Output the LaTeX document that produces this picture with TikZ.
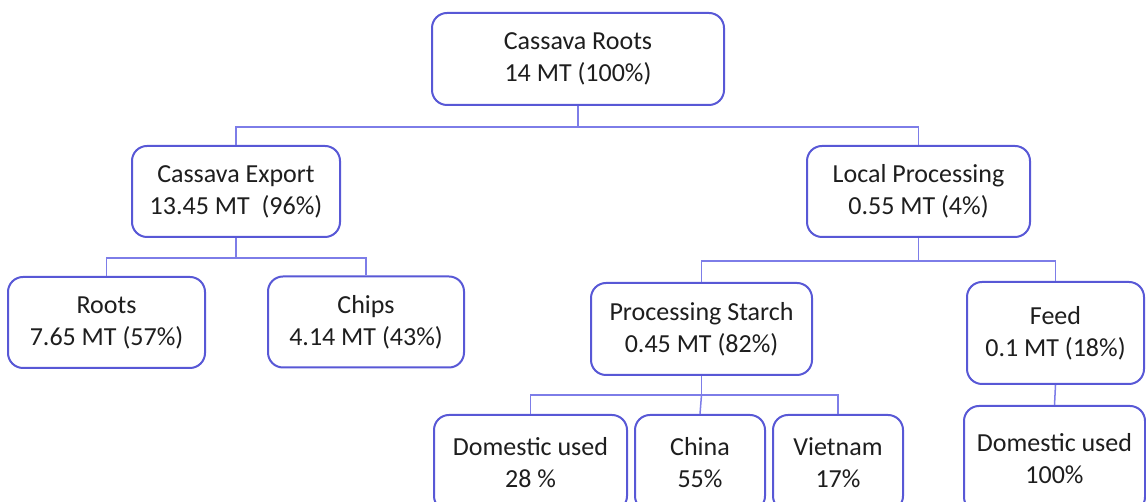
\documentclass[tikz,border=0pt]{standalone}
\usepackage{fontspec}
\setmainfont{Carlito}
\usetikzlibrary{calc}

\begin{document}
\begin{tikzpicture}[x=1pt,y=1pt,font=\fontsize{26}{32}\selectfont]
\definecolor{boxcolor}{RGB}{88,88,214}
\definecolor{linkcolor}{RGB}{125,125,232}
\definecolor{textcolor}{RGB}{30,30,30}
\tikzset{
  flowbox/.style={draw=boxcolor,line width=2pt,rounded corners=15pt,fill=white,
    align=center,text=textcolor,minimum height=92pt,inner sep=0pt},
  link/.style={draw=linkcolor,line width=1.5pt}
}

% Page frame, the lowest boxes run past its edges.
\clip (0,0) rectangle (1146,502);

% Top level and first split.
\node[flowbox,minimum width=292pt] (roots0) at (578,443) {Cassava Roots\\14 MT (100\%)};
\node[flowbox,minimum width=208pt,minimum height=91pt] (export) at (236,310.5)
  {Cassava Export\\13.45 MT\ \ (96\%)};
\node[flowbox,minimum width=223pt,minimum height=91pt] (local) at (918.5,310.5)
  {Local Processing\\0.55 MT (4\%)};

% Export products.
\node[flowbox,minimum width=197pt,minimum height=91pt] (fresh) at (106.5,179.5)
  {Roots\\7.65 MT (57\%)};
\node[flowbox,minimum width=196pt,minimum height=91pt] (chips) at (366,180)
  {Chips\\4.14 MT (43\%)};

% Local uses.
\node[flowbox,minimum width=221pt] (starch) at (701.5,173)
  {Processing Starch\\0.45 MT (82\%)};
\node[flowbox,minimum width=177pt,minimum height=102pt] (feed) at (1055.5,169)
  {Feed\\0.1 MT (18\%)};

% Starch and feed destinations.
\node[flowbox,minimum width=193pt,minimum height=96pt] (domstarch) at (530.5,39) {Domestic used\\28 \%};
\node[flowbox,minimum width=130pt,minimum height=96pt] (china) at (700,39) {China\\55\%};
\node[flowbox,minimum width=130pt,minimum height=96pt] (vietnam) at (838,39) {Vietnam\\17\%};
\node[flowbox,minimum width=181pt,minimum height=106pt] (domfeed) at (1054.5,43) {Domestic used\\100\%};

% Tree connectors.
\draw[link] (roots0.south) -- ++(0,-21) coordinate (busA);
\draw[link] (export.north) |- (busA) -| (local.north);
\draw[link] (export.south) -- ++(0,-20) coordinate (busB);
\draw[link] (fresh.north) |- (busB) -| (chips.north);
\draw[link] (local.south) -- ++(0,-23) coordinate (busC);
\draw[link] (starch.north) |- (busC) -| (feed.north);
\draw[link] (starch.south) -- ++(0,-19) coordinate (busD);
\draw[link] (domstarch.north) |- (busD) -| (vietnam.north);
\draw[link] (busD) -- (china.north);
\draw[link] (feed.south) -- (domfeed.north);
\end{tikzpicture}
\end{document}
